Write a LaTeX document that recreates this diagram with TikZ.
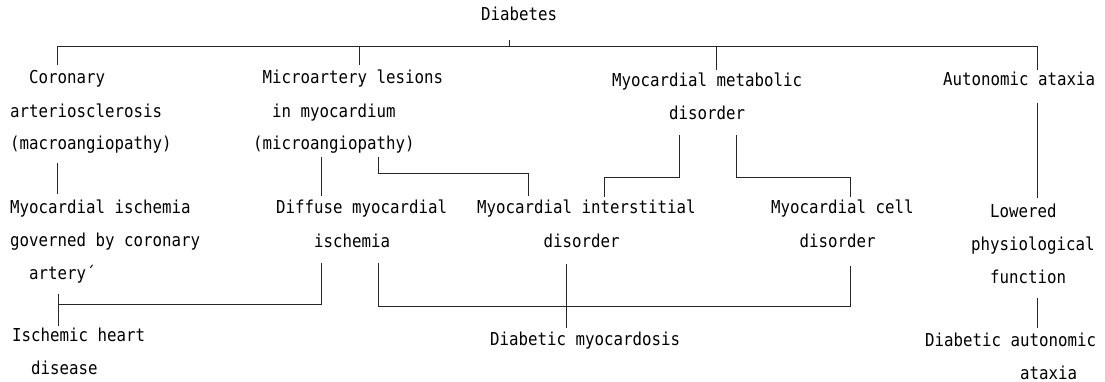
\documentclass[tikz,border=0pt]{standalone}
\usepackage{fontspec}
\newfontfamily\monofont[FakeStretch=0.886]{DejaVu Sans Mono}
\newcommand\labelfont{\monofont\fontsize{17.8pt}{33pt}\selectfont}
\newcommand\ind[1]{\hphantom{#1}}
\tikzset{
  ln/.style={draw=black!85, line width=0.9pt},
  txt/.style={inner sep=0pt, anchor=base west, align=left, font=\labelfont, text=black}
}
\begin{document}
\begin{tikzpicture}[x=1pt,y=-1pt]
\useasboundingbox[fill=white] (0,0) rectangle (1105,382);
% text nodes (position = baseline of the last line)
\node[txt] (diab) at (481,21) {Diabetes};
\node[txt] (cor) at (10,150) {\ind{xx}Coronary\\arteriosclerosis\\(macroangiopathy)};
\node[txt] (mic) at (253,150) {\ind{x}Microartery lesions\\\ind{xx}in myocardium\\(microangiopathy)};
\node[txt] (met) at (612,120) {Myocardial metabolic\\\ind{xxxxxx}disorder};
\node[txt] (aut) at (943,86) {Autonomic ataxia};
\node[txt] (isc) at (10,279) {Myocardial ischemia\\governed by coronary\\\ind{xx}artery´};
\node[txt] (dif) at (276,247) {Diffuse myocardial\\\ind{xxxx}ischemia};
\node[txt] (int) at (477,247) {Myocardial interstitial\\\ind{xxxxxxx}disorder};
\node[txt] (cel) at (771,247) {Myocardial cell\\\ind{xxx}disorder};
\node[txt] (low) at (971,283) {\ind{xx}Lowered\\physiological\\\ind{xx}function};
\node[txt] (ihd) at (12,374) {Ischemic heart\\\ind{xx}disease};
\node[txt] (dmy) at (490,345) {Diabetic myocardosis};
\node[txt] (dau) at (925,379) {Diabetic autonomic\\\ind{xxxxxxxxxx}ataxia};
% connector end points
\coordinate (diabB) at (509,40);
\coordinate (busD) at (509,46);
\coordinate (busL) at (57,46);
\coordinate (busR) at (1037,46);
\coordinate (corT) at (57,65);
\coordinate (micT) at (359,65);
\coordinate (busM) at (359,46);
\coordinate (metT) at (716,70);
\coordinate (busN) at (716,46);
\coordinate (autT) at (1037,70);
\coordinate (corB) at (57,163);
\coordinate (iscT) at (57,194);
\coordinate (micB1) at (321,157);
\coordinate (difT) at (321,196);
\coordinate (micB2) at (378,157);
\coordinate (intT1) at (528,196);
\coordinate (metB1) at (679,135);
\coordinate (intT2) at (604,197);
\coordinate (metB2) at (736,135);
\coordinate (celT) at (850,197);
\coordinate (autB) at (1037,103);
\coordinate (lowT) at (1037,198);
\coordinate (difB1) at (321,263);
\coordinate (ihdJ) at (58,304);
\coordinate (iscB) at (58,294);
\coordinate (ihdT) at (58,326);
\coordinate (difB2) at (378,263);
\coordinate (celB) at (850,266);
\coordinate (intB) at (566,264);
\coordinate (dmyT) at (566,328);
\coordinate (lowB) at (1037,298);
\coordinate (dauT) at (1037,328);
% connectors
\draw[ln] (diabB) -- (busD);
\draw[ln] (corT) -- (busL) -- (busR) -- (autT);
\draw[ln] (busM) -- (micT);
\draw[ln] (busN) -- (metT);
\draw[ln] (corB) -- (iscT);
\draw[ln] (micB1) -- (difT);
\draw[ln] (micB2) -- ++(0,16) -| (intT1);
\draw[ln] (metB1) -- ++(0,42) -| (intT2);
\draw[ln] (metB2) -- ++(0,42) -| (celT);
\draw[ln] (autB) -- (lowT);
\draw[ln] (difB1) |- (ihdJ);
\draw[ln] (iscB) -- (ihdT);
\draw[ln] (difB2) -- ++(0,43) -| (celB);
\draw[ln] (intB) -- (dmyT);
\draw[ln] (lowB) -- (dauT);
\end{tikzpicture}
\end{document}
